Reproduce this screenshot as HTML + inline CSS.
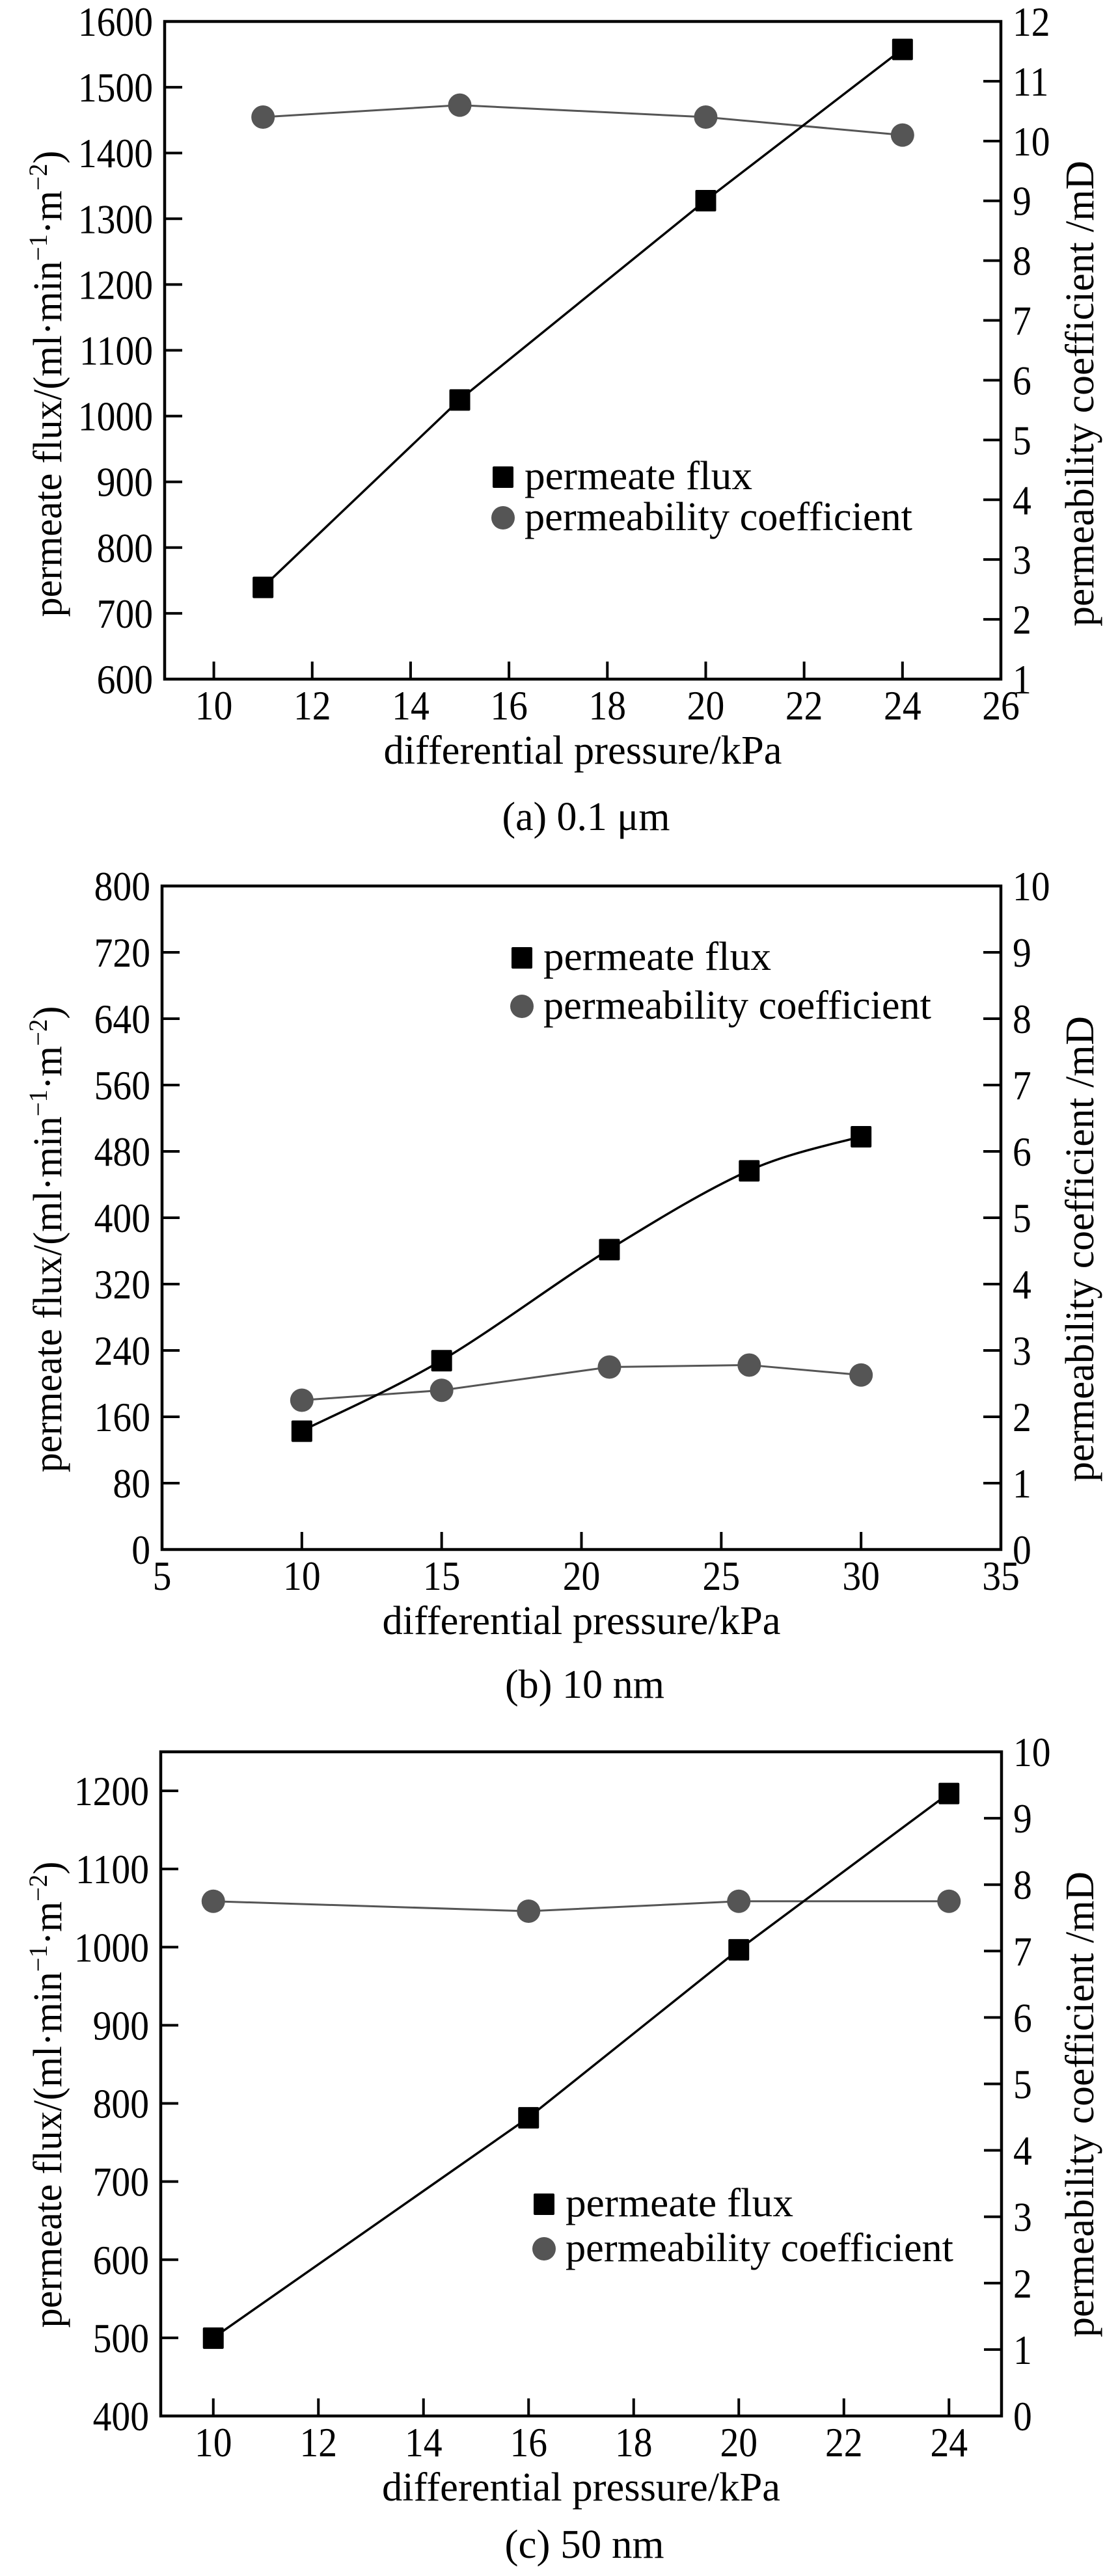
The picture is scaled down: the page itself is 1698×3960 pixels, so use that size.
<!DOCTYPE html>
<html>
<head>
<meta charset="utf-8">
<style>
  html, body { margin: 0; padding: 0; background: #fff; }
  svg { display: block; }
  text { font-family: "Liberation Serif", "Times New Roman", serif; fill: #000; }
</style>
</head>
<body>
<svg id="fig" xmlns="http://www.w3.org/2000/svg" width="1698" height="3960" viewBox="0 0 1698 3960"></svg>
<script>
// ---------- Chart (a) 0.1 µm ----------
const xA = [11, 15, 20, 24];
const fluxA = [740, 1025, 1328, 1558];
const permA = [10.4, 10.6, 10.4, 10.1];
const xTicksA = [10, 12, 14, 16, 18, 20, 22, 24, 26];
const yTicksA = [600, 700, 800, 900, 1000, 1100, 1200, 1300, 1400, 1500, 1600];
const rTicksA = [1, 2, 3, 4, 5, 6, 7, 8, 9, 10, 11, 12];

// ---------- Chart (b) 10 nm ----------
const xB = [10, 15, 21, 26, 30];
const fluxB = [143, 228, 362, 457, 498];
const permB = [2.25, 2.4, 2.75, 2.78, 2.63];
const xTicksB = [5, 10, 15, 20, 25, 30, 35];
const yTicksB = [0, 80, 160, 240, 320, 400, 480, 560, 640, 720, 800];
const rTicksB = [0, 1, 2, 3, 4, 5, 6, 7, 8, 9, 10];

// ---------- Chart (c) 50 nm ----------
const xC = [10, 16, 20, 24];
const fluxC = [500, 782, 997, 1197];
const permC = [7.75, 7.6, 7.75, 7.75];
const xTicksC = [10, 12, 14, 16, 18, 20, 22, 24];
const yTicksC = [400, 500, 600, 700, 800, 900, 1000, 1100, 1200];
const rTicksC = [0, 1, 2, 3, 4, 5, 6, 7, 8, 9, 10];

const NS = 'http://www.w3.org/2000/svg';
const svg = document.getElementById('fig');

function mk(tag, attrs, parent) {
  const e = document.createElementNS(NS, tag);
  for (const k in attrs) e.setAttribute(k, attrs[k]);
  (parent || svg).appendChild(e);
  return e;
}

function condText(parent, x, y, str, anchor, sx) {
  const g = mk('g', { transform: 'translate(' + x + ',' + y + ') scale(' + sx + ',1)' }, parent);
  const t = mk('text', { x: 0, y: 0, 'font-size': 64, 'text-anchor': anchor }, g);
  t.textContent = str;
  return t;
}

function spline(pts) {
  let d = 'M' + pts[0][0] + ',' + pts[0][1];
  for (let i = 0; i < pts.length - 1; i++) {
    const p0 = pts[Math.max(i - 1, 0)], p1 = pts[i], p2 = pts[i + 1], p3 = pts[Math.min(i + 2, pts.length - 1)];
    const c1x = p1[0] + (p2[0] - p0[0]) / 6, c1y = p1[1] + (p2[1] - p0[1]) / 6;
    const c2x = p2[0] - (p3[0] - p1[0]) / 6, c2y = p2[1] - (p3[1] - p1[1]) / 6;
    d += ' C' + c1x + ',' + c1y + ' ' + c2x + ',' + c2y + ' ' + p2[0] + ',' + p2[1];
  }
  return d;
}

function drawChart(c) {
  const g = mk('g', {});
  
  
  const L = c.left, R = c.right, T = c.top, B = c.bottom;
  const sx = v => L + (v - c.xmin) / (c.xmax - c.xmin) * (R - L);
  const sy = v => B - (v - c.ymin) / (c.ymax - c.ymin) * (B - T);
  const sr = v => B - (v - c.rmin) / (c.rmax - c.rmin) * (B - T);

  const frame = mk('rect', { x: L, y: T, width: R - L, height: B - T, fill: 'none', stroke: '#000', 'stroke-width': 4.5 }, g);
  
  

  c.xTicks.forEach(v => {
    const x = sx(v);
    if (v > c.xmin && v < c.xmax) {
      const t = mk('line', { x1: x, y1: B, x2: x, y2: B - 27, stroke: '#000', 'stroke-width': 4 }, g);
      
      
    }
    const lab = condText(g, x, B + 62, String(v), 'middle', 0.9);
    
    
  });
  c.yTicks.forEach(v => {
    const y = sy(v);
    if (v > c.ymin && v < c.ymax) {
      const t = mk('line', { x1: L, y1: y, x2: L + 27, y2: y, stroke: '#000', 'stroke-width': 4 }, g);
      
      
    }
    const lab = condText(g, L - 18, y + 22, String(v), 'end', 0.9);
    
    
  });
  c.rTicks.forEach(v => {
    const y = sr(v);
    if (v > c.rmin && v < c.rmax) {
      const t = mk('line', { x1: R, y1: y, x2: R - 27, y2: y, stroke: '#000', 'stroke-width': 4 }, g);
      
      
    }
    const lab = condText(g, R + 18, y + 22, String(v), 'start', 0.9);
    
    
  });

  const xl = mk('text', { x: (L + R) / 2, y: B + 130, 'font-size': 62, 'text-anchor': 'middle', textLength: 612, lengthAdjust: 'spacingAndGlyphs' }, g);
  xl.textContent = 'differential pressure/kPa';
  
  

  const cap = mk('text', { x: (L + R) / 2 + 5, y: B + c.capDy, 'font-size': 62, 'text-anchor': 'middle', textLength: c.capLen, lengthAdjust: 'spacingAndGlyphs' }, g);
  cap.textContent = c.caption;
  
  

  const ly = c.titleY;
  const yl = mk('text', { x: 0, y: 0, 'font-size': 62, 'text-anchor': 'middle', textLength: 717, lengthAdjust: 'spacingAndGlyphs', transform: 'translate(94,' + ly + ') rotate(-90)' }, g);
  yl.innerHTML = 'permeate flux/(ml·min<tspan font-size="40" dy="-22">−1</tspan><tspan dy="22">·m</tspan><tspan font-size="40" dy="-22">−2</tspan><tspan dy="22">)</tspan>';
  
  

  const rl = mk('text', { x: 0, y: 0, 'font-size': 62, 'text-anchor': 'middle', textLength: 716, lengthAdjust: 'spacingAndGlyphs', transform: 'translate(1680,' + (ly + 15) + ') rotate(-90)' }, g);
  rl.textContent = 'permeability coefficient /mD';
  
  

  const fp = c.x.map((v, i) => [sx(v), sy(c.flux[i])]);
  const pp = c.x.map((v, i) => [sx(v), sr(c.perm[i])]);
  const pl = mk('path', { d: 'M' + pp.map(p => p.join(',')).join(' L'), fill: 'none', stroke: '#555', 'stroke-width': 3 }, g);
  
  
  const fl = mk('path', { d: c.smooth ? spline(fp) : 'M' + fp.map(p => p.join(',')).join(' L'), fill: 'none', stroke: '#000', 'stroke-width': 3.5 }, g);
  
  

  pp.forEach(p => {
    const m = mk('ellipse', { cx: p[0], cy: p[1], rx: 18, ry: 18, fill: '#555' }, g);
    
    
  });
  fp.forEach(p => {
    const m = mk('rect', { x: p[0] - 16, y: p[1] - 16, width: 32, height: 33, rx: 2, fill: '#000' }, g);
    
    
  });

  const lg = mk('g', {}, g);
  
  
  const lx = c.legX, l1 = c.legY1, l2 = c.legY2;
  const ls = mk('rect', { x: lx - 16, y: l1 - 16, width: 32, height: 33, rx: 2, fill: '#000' }, lg);
  
  
  const lt1 = mk('text', { x: lx + 33, y: l1 + 19, 'font-size': 62, textLength: 350, lengthAdjust: 'spacingAndGlyphs' }, lg);
  lt1.textContent = 'permeate flux';
  
  
  const lc = mk('ellipse', { cx: lx, cy: l2, rx: 18, ry: 18, fill: '#555' }, lg);
  
  
  const lt2 = mk('text', { x: lx + 33, y: l2 + 19, 'font-size': 62, textLength: 596, lengthAdjust: 'spacingAndGlyphs' }, lg);
  lt2.textContent = 'permeability coefficient';
  
  
}

drawChart({ name: 'chart-a', left: 253, right: 1538, top: 33, bottom: 1044,
  xmin: 9, xmax: 26, ymin: 600, ymax: 1600, rmin: 1, rmax: 12,
  x: xA, flux: fluxA, perm: permA, xTicks: xTicksA, yTicks: yTicksA, rTicks: rTicksA,
  smooth: false, caption: '(a) 0.1 μm', capLen: 258, capDy: 232, titleY: 590,
  legX: 773, legY1: 733, legY2: 796 });

drawChart({ name: 'chart-b', left: 249, right: 1538, top: 1362, bottom: 2382,
  xmin: 5, xmax: 35, ymin: 0, ymax: 800, rmin: 0, rmax: 10,
  x: xB, flux: fluxB, perm: permB, xTicks: xTicksB, yTicks: yTicksB, rTicks: rTicksB,
  smooth: true, caption: '(b) 10 nm', capLen: 245, capDy: 228, titleY: 1905,
  legX: 802, legY1: 1472, legY2: 1547 });

drawChart({ name: 'chart-c', left: 247, right: 1539, top: 2693, bottom: 3714,
  xmin: 9, xmax: 25, ymin: 400, ymax: 1250, rmin: 0, rmax: 10,
  x: xC, flux: fluxC, perm: permC, xTicks: xTicksC, yTicks: yTicksC, rTicks: rTicksC,
  smooth: false, caption: '(c) 50 nm', capLen: 245, capDy: 218, titleY: 3220,
  legX: 836, legY1: 3388, legY2: 3457 });
</script>
</body>
</html>
